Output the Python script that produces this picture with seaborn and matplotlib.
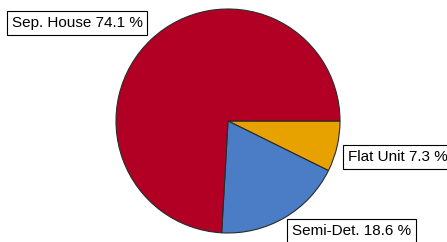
import matplotlib
matplotlib.use("Agg")
import matplotlib.pyplot as plt
import seaborn as sns

categories = ["Flat Unit", "Semi-Det.", "Sep. House"]
shares = [7.3, 18.6, 74.1]
colors_hex = ["#E8A200", "#4A7DC6", "#B10024"]

sns.set_theme(style="white")
plt.rcParams["font.family"] = ["Liberation Sans", "DejaVu Sans"]
palette = sns.color_palette(colors_hex)

fig = plt.figure(figsize=(4.47, 2.42), dpi=100)
ax = fig.add_axes([0, 0, 1, 1])
ax.axis("off")

ax.pie(shares, colors=palette, startangle=0, counterclock=False,
       center=(228, 121), radius=112, frame=False,
       wedgeprops=dict(edgecolor="#2a2a2a", linewidth=0.8))
ax.set_xlim(0, 447)
ax.set_ylim(0, 242)
ax.set_aspect("auto")

label_pos = {"Flat Unit": (348, 85), "Semi-Det.": (292, 11), "Sep. House": (12, 219)}
for cat, val in zip(categories, shares):
    x, y = label_pos[cat]
    ax.text(x, y, f"{cat} {val:.1f} %", ha="left", va="center", fontsize=11,
            color="black",
            bbox=dict(boxstyle="square,pad=0.3", fc="white", ec="black", lw=0.8))

fig.savefig("out.png", dpi=100)
